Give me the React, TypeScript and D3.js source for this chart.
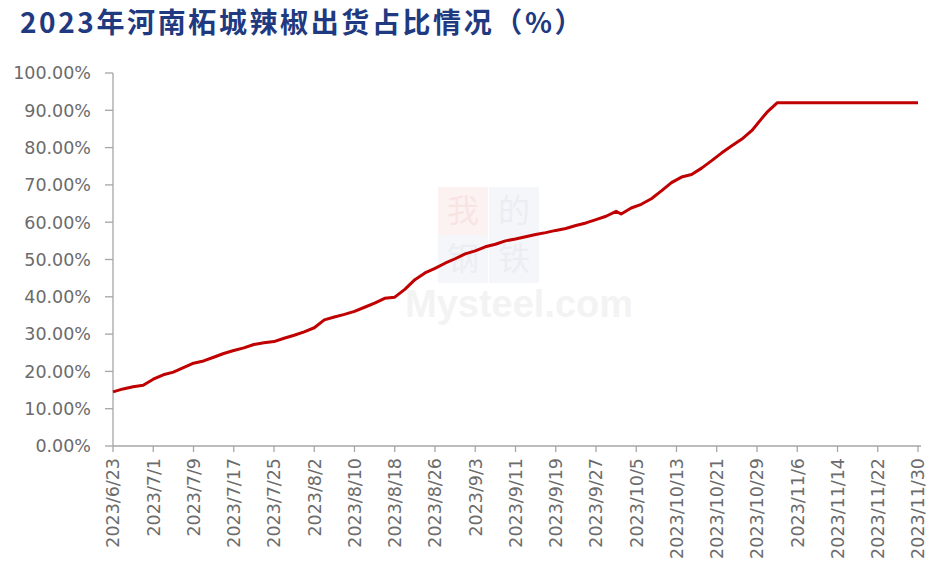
import React, { useEffect, useRef } from "react";
import * as d3 from "d3";

const title = "2023年河南柘城辣椒出货占比情况（%）";

const dates: string[] = [
  "2023-06-23", "2023-06-25", "2023-06-27", "2023-06-29", "2023-07-01", "2023-07-03",
  "2023-07-05", "2023-07-07", "2023-07-09", "2023-07-11", "2023-07-13", "2023-07-15",
  "2023-07-17", "2023-07-19", "2023-07-21", "2023-07-23", "2023-07-25", "2023-07-27",
  "2023-07-29", "2023-07-31", "2023-08-02", "2023-08-04", "2023-08-06", "2023-08-08",
  "2023-08-10", "2023-08-12", "2023-08-14", "2023-08-16", "2023-08-18", "2023-08-20",
  "2023-08-22", "2023-08-24", "2023-08-26", "2023-08-28", "2023-08-30", "2023-09-01",
  "2023-09-03", "2023-09-05", "2023-09-07", "2023-09-09", "2023-09-11", "2023-09-13",
  "2023-09-15", "2023-09-17", "2023-09-19", "2023-09-21", "2023-09-23", "2023-09-25",
  "2023-09-27", "2023-09-29", "2023-10-01", "2023-10-02", "2023-10-04", "2023-10-06",
  "2023-10-08", "2023-10-10", "2023-10-12", "2023-10-14", "2023-10-16", "2023-10-18",
  "2023-10-20", "2023-10-22", "2023-10-24", "2023-10-26", "2023-10-28", "2023-10-30",
  "2023-10-31", "2023-11-02", "2023-11-06", "2023-11-10", "2023-11-14", "2023-11-18",
  "2023-11-22", "2023-11-26", "2023-11-30",
];

const values: number[] = [
  14.5, 15.3, 15.9, 16.3, 17.9, 19.1,
  19.8, 21.0, 22.2, 22.8, 23.8, 24.8,
  25.6, 26.3, 27.2, 27.7, 28.0, 28.9,
  29.7, 30.6, 31.7, 33.8, 34.6, 35.3,
  36.1, 37.2, 38.3, 39.6, 39.9, 42.0,
  44.6, 46.4, 47.6, 49.0, 50.2, 51.5,
  52.3, 53.4, 54.1, 55.0, 55.5, 56.1,
  56.7, 57.2, 57.8, 58.3, 59.1, 59.8,
  60.7, 61.6, 62.9, 62.2, 63.8, 64.8,
  66.3, 68.4, 70.6, 72.1, 72.8, 74.5,
  76.5, 78.6, 80.5, 82.3, 84.6, 87.9,
  89.5, 92.0, 92.0, 92.0, 92.0, 92.0,
  92.0, 92.0, 92.0,
];

const xTickDates: string[] = [
  "2023-06-23", "2023-07-01", "2023-07-09", "2023-07-17", "2023-07-25", "2023-08-02",
  "2023-08-10", "2023-08-18", "2023-08-26", "2023-09-03", "2023-09-11", "2023-09-19",
  "2023-09-27", "2023-10-05", "2023-10-13", "2023-10-21", "2023-10-29", "2023-11-06",
  "2023-11-14", "2023-11-22", "2023-11-30",
];

const yTicks: number[] = [0, 10, 20, 30, 40, 50, 60, 70, 80, 90, 100];

export default function App() {
  const ref = useRef<SVGSVGElement>(null);

  useEffect(() => {
    const svg = d3.select(ref.current);
    svg.selectAll("*").remove();

    const parse = d3.timeParse("%Y-%m-%d");
    const fmt = d3.timeFormat("%Y/%-m/%-d");
    const left = 113, right = 918, top = 73, bottom = 446;

    const x = d3.scaleTime()
      .domain([parse("2023-06-23")!, parse("2023-11-30")!])
      .range([left, right]);
    const y = d3.scaleLinear().domain([0, 100]).range([bottom, top]);

    // watermark
    const wm = svg.append("g").attr("opacity", 0.45);
    const boxes = [
      { t: "我", cx: 463, cy: 211, fill: "#fbe3e3", col: "#f3c4c4" },
      { t: "的", cx: 514, cy: 211, fill: "#e9ecf4", col: "#d3d9e8" },
      { t: "钢", cx: 463, cy: 259, fill: "#e9ecf4", col: "#d3d9e8" },
      { t: "铁", cx: 514, cy: 259, fill: "#e9ecf4", col: "#d3d9e8" },
    ];
    boxes.forEach((b) => {
      wm.append("rect").attr("x", b.cx - 25).attr("y", b.cy - 24).attr("width", 50).attr("height", 48).attr("fill", b.fill);
      wm.append("text").attr("x", b.cx).attr("y", b.cy + 11).attr("text-anchor", "middle")
        .attr("font-family", "Noto Sans CJK SC").attr("font-size", 32).attr("fill", b.col).text(b.t);
    });
    wm.append("text").attr("x", 405).attr("y", 317)
      .attr("font-family", "Liberation Sans").attr("font-weight", "bold").attr("font-size", 38)
      .attr("fill", "#e6e6e6").text("Mysteel.com");

    // axes
    const axisColor = "#a6a6a6";
    const labelColor = "#6b6b6b";
    svg.append("line").attr("x1", left).attr("x2", left).attr("y1", top).attr("y2", bottom)
      .attr("stroke", axisColor).attr("stroke-width", 1.3);
    svg.append("line").attr("x1", left).attr("x2", right + 3).attr("y1", bottom).attr("y2", bottom)
      .attr("stroke", axisColor).attr("stroke-width", 1.3);

    const yg = svg.append("g");
    yTicks.forEach((t) => {
      yg.append("line").attr("x1", left - 8).attr("x2", left).attr("y1", y(t)).attr("y2", y(t))
        .attr("stroke", axisColor).attr("stroke-width", 1.3);
      yg.append("text").attr("x", 91).attr("y", y(t)).attr("dy", "0.36em")
        .attr("text-anchor", "end").attr("font-family", "DejaVu Sans").attr("font-size", 17.5)
        .attr("fill", labelColor).text(t.toFixed(2) + "%");
    });

    const xg = svg.append("g");
    xTickDates.forEach((ds) => {
      const d = parse(ds)!;
      const px = x(d);
      xg.append("line").attr("x1", px).attr("x2", px).attr("y1", bottom).attr("y2", bottom + 6)
        .attr("stroke", axisColor).attr("stroke-width", 1.3);
      xg.append("text").attr("transform", `translate(${px},${bottom + 12}) rotate(-90)`)
        .attr("dy", "0.36em").attr("text-anchor", "end")
        .attr("font-family", "DejaVu Sans").attr("font-size", 17.5)
        .attr("fill", labelColor).text(fmt(d));
    });

    const data = dates.map((ds, i) => ({ d: parse(ds)!, v: values[i] }));
    const line = d3.line<{ d: Date; v: number }>().x((p) => x(p.d)).y((p) => y(p.v));
    svg.append("path").datum(data).attr("d", line).attr("fill", "none")
      .attr("stroke", "#c00000").attr("stroke-width", 3).attr("stroke-linejoin", "round");

    svg.append("text").attr("x", 20).attr("y", 33)
      .attr("font-family", "Noto Sans CJK SC").attr("font-weight", "bold").attr("font-size", 28)
      .attr("letter-spacing", 2.6)
      .attr("fill", "#1f3a80").text(title);
  }, []);

  return (
    <div style={{ position: "absolute", left: 0, top: 0 }}>
      <svg ref={ref} width={929} height={573} style={{ display: "block", background: "#fff" }} />
    </div>
  );
}
